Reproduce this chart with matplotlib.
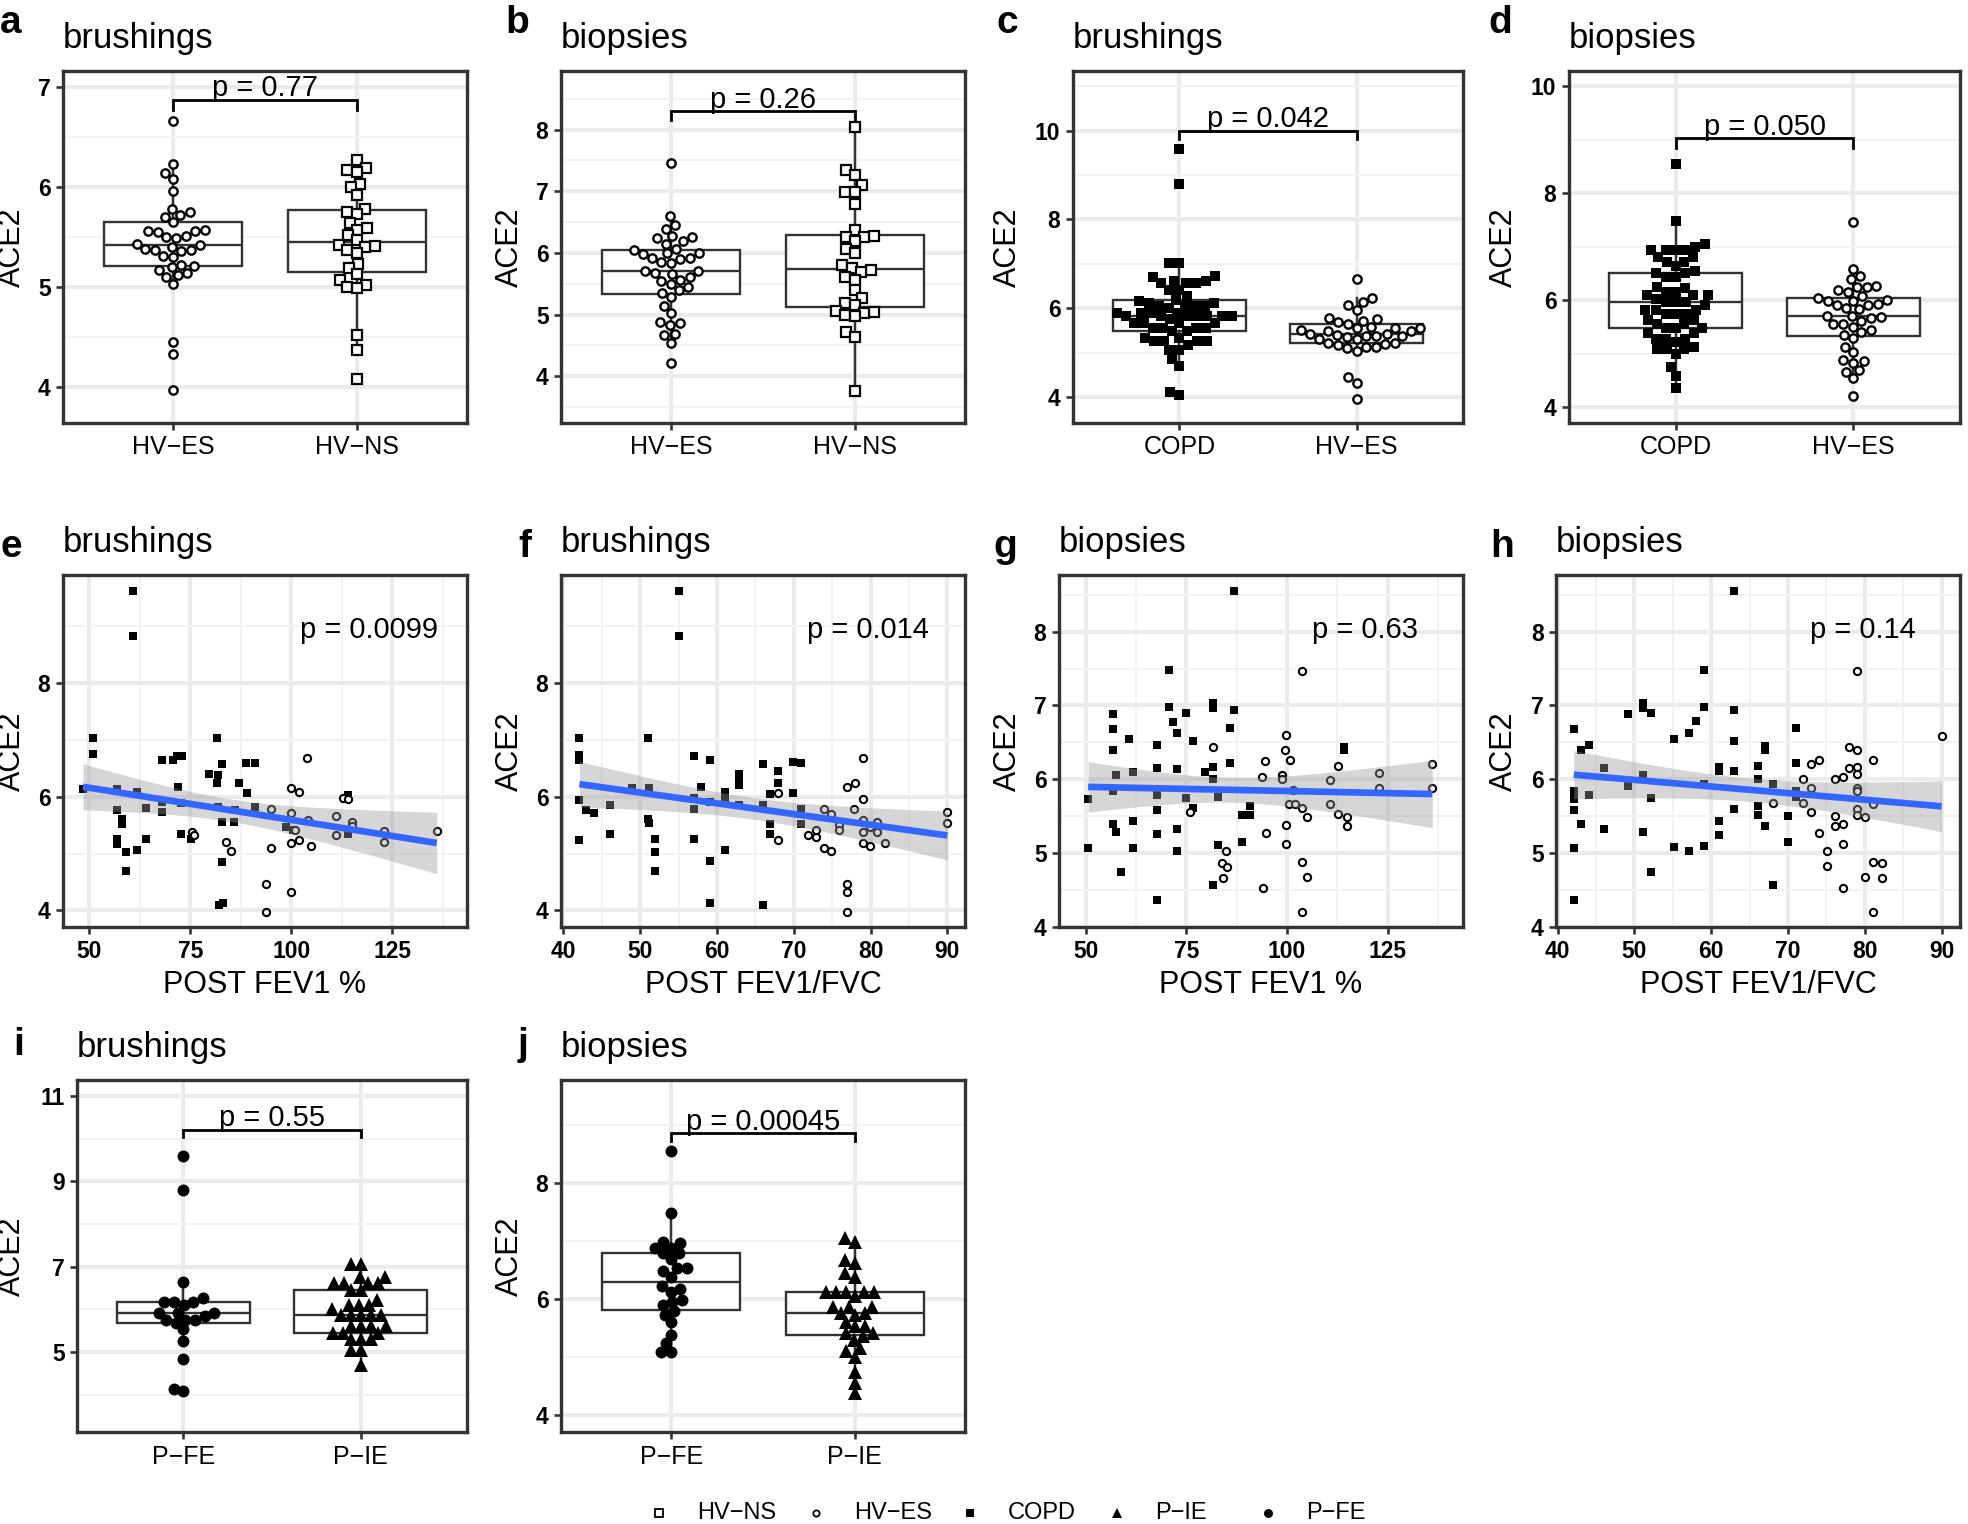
import numpy as np
import matplotlib
matplotlib.use("Agg")
import matplotlib.pyplot as plt

plt.rcParams['font.family'] = ['Liberation Sans', 'DejaVu Sans']

W, H = 1968, 1524
MINUS = '\u2212'

# ---- box panel data (ACE2) ----
brush_hves = [6.66, 6.23, 6.14, 6.08, 5.96, 5.78, 5.75, 5.72, 5.70, 5.65, 5.57, 5.56, 5.56,
              5.55, 5.51, 5.50, 5.49, 5.43, 5.42, 5.40, 5.38, 5.37, 5.37, 5.36, 5.31, 5.30,
              5.22, 5.21, 5.20, 5.17, 5.14, 5.12, 5.10, 5.03, 4.45, 4.33, 3.97]
brush_hvns = [6.27, 6.19, 6.17, 6.15, 6.03, 6.00, 5.92, 5.78, 5.75, 5.73, 5.64, 5.59, 5.57,
              5.52, 5.47, 5.42, 5.41, 5.40, 5.37, 5.34, 5.23, 5.19, 5.13, 5.07, 5.02, 5.00,
              4.99, 4.52, 4.37, 4.08]
biop_hves = [7.46, 6.59, 6.45, 6.39, 6.27, 6.25, 6.24, 6.19, 6.15, 6.07, 6.04, 6.00, 5.99,
             5.98, 5.92, 5.91, 5.90, 5.85, 5.84, 5.71, 5.70, 5.68, 5.66, 5.61, 5.56, 5.55,
             5.50, 5.45, 5.40, 5.35, 5.29, 5.13, 5.02, 4.88, 4.86, 4.83, 4.69, 4.66, 4.54, 4.21]
biop_hvns = [8.04, 7.35, 7.27, 7.10, 6.99, 6.98, 6.79, 6.37, 6.27, 6.26, 6.25, 6.19, 6.07,
             5.99, 5.80, 5.75, 5.72, 5.69, 5.61, 5.56, 5.39, 5.26, 5.18, 5.15, 5.05, 5.04,
             5.03, 4.99, 4.97, 4.72, 4.64, 3.76]
brush_copd = [9.58, 8.79, 7.03, 7.03, 6.72, 6.70, 6.62, 6.62, 6.57, 6.57, 6.57, 6.42, 6.42,
              6.28, 6.19, 6.16, 6.12, 6.12, 6.06, 6.06, 6.06, 6.06, 6.01, 5.90, 5.90, 5.90,
              5.90, 5.82, 5.82, 5.82, 5.82, 5.82, 5.82, 5.82, 5.75, 5.67, 5.67, 5.67, 5.67,
              5.56, 5.56, 5.56, 5.56, 5.48, 5.48, 5.33, 5.33, 5.26, 5.26, 5.26, 5.26, 5.18,
              5.07, 5.07, 4.85, 4.70, 4.11, 4.06]
biop_copd = [8.54, 7.49, 7.05, 6.99, 6.94, 6.94, 6.94, 6.94, 6.80, 6.80, 6.72, 6.72, 6.63,
             6.55, 6.51, 6.51, 6.44, 6.44, 6.25, 6.22, 6.16, 6.16, 6.09, 6.09, 6.09, 6.03,
             5.97, 5.97, 5.97, 5.91, 5.81, 5.81, 5.81, 5.75, 5.75, 5.75, 5.63, 5.63, 5.56,
             5.56, 5.47, 5.47, 5.47, 5.38, 5.38, 5.28, 5.28, 5.28, 5.22, 5.13, 5.09, 5.09,
             5.09, 5.00, 4.75, 4.58, 4.36]
brush_pfe = [9.60, 8.80, 6.64, 6.27, 6.18, 6.18, 6.18, 6.11, 5.92, 5.92, 5.92, 5.84, 5.76,
             5.76, 5.76, 5.68, 5.53, 5.26, 4.84, 4.14, 4.09]
brush_pie = [7.07, 7.07, 6.77, 6.77, 6.62, 6.62, 6.62, 6.62, 6.45, 6.45, 6.23, 6.11, 6.11,
             6.11, 6.00, 5.88, 5.88, 5.88, 5.88, 5.88, 5.61, 5.61, 5.61, 5.61, 5.45, 5.45,
             5.45, 5.30, 5.30, 5.30, 5.06, 5.06, 4.71]
biop_pfe = [8.56, 7.48, 6.99, 6.97, 6.89, 6.89, 6.79, 6.79, 6.69, 6.53, 6.53, 6.48, 6.39,
            6.22, 6.17, 6.13, 5.99, 5.96, 5.90, 5.79, 5.73, 5.60, 5.39, 5.24, 5.09, 5.09]
biop_pie = [7.05, 6.99, 6.68, 6.62, 6.45, 6.39, 6.13, 6.13, 6.13, 6.13, 6.13, 6.05, 5.87,
            5.87, 5.87, 5.76, 5.76, 5.73, 5.61, 5.53, 5.53, 5.41, 5.41, 5.36, 5.30, 5.16,
            5.10, 5.01, 4.75, 4.56, 4.38]

# ---- scatter data ----
e_copd_x = [60.9, 60.9, 50.9, 50.9, 48.4, 56.9, 56.9, 58.0, 58.0, 56.9, 56.9, 59.0, 59.0, 61.8,
            61.7, 63.9, 63.9, 67.9, 67.9, 67.9, 70.8, 71.8, 73.0, 71.9, 72.6, 72.6, 75.1, 79.7,
            81.7, 81.9, 82.8, 81.7, 81.9, 82.8, 82.8, 82.2, 83.1, 85.9, 87.0, 88.8, 91.1, 89.0,
            91.1, 86.1, 98.7, 100.4, 114.0, 114.0]
e_copd_y = [9.61, 8.82, 7.03, 6.74, 6.13, 6.14, 5.76, 5.61, 5.52, 5.26, 5.17, 5.03, 4.70, 6.08,
            5.07, 5.80, 5.26, 6.65, 5.91, 5.73, 6.65, 6.71, 6.71, 6.17, 5.88, 5.35, 5.26, 6.40,
            7.03, 6.38, 6.58, 6.23, 5.82, 5.55, 4.85, 4.09, 4.13, 5.55, 6.23, 6.59, 6.59, 6.06,
            5.82, 5.76, 5.47, 5.41, 6.02, 5.35]
e_hves_x = [103.9, 100.0, 102.0, 95.0, 100.0, 104.1, 111.0, 111.0, 112.8, 114.9, 114.9, 123.0,
            123.0, 136.0, 75.5, 75.9, 83.8, 85.0, 95.0, 100.0, 102.0, 104.9, 93.7, 100.0, 93.7,
            100.8, 114.0]
e_hves_y = [6.67, 6.15, 6.08, 5.78, 5.72, 5.58, 5.66, 5.32, 5.98, 5.55, 5.48, 5.39, 5.21, 5.40,
            5.38, 5.32, 5.20, 5.04, 5.10, 5.18, 5.23, 5.14, 4.47, 4.33, 3.97, 5.41, 5.96]

f_copd_x = [55.1, 55.1, 42.1, 42.1, 42.1, 42.1, 42.1, 43.0, 44.0, 46.1, 46.1, 49.0, 51.0, 51.1,
            51.0, 51.1, 52.0, 52.0, 52.0, 57.0, 57.0, 57.0, 57.0, 57.9, 59.1, 59.1, 59.1, 59.1,
            61.0, 61.0, 61.0, 62.9, 62.9, 62.9, 62.9, 66.0, 66.0, 66.0, 66.9, 66.9, 66.9, 68.0,
            68.0, 69.9, 71.0, 69.9, 70.9, 70.9]
f_copd_y = [9.61, 8.82, 7.03, 6.73, 6.65, 5.94, 5.23, 5.76, 5.71, 5.86, 5.35, 6.15, 7.03, 6.15,
            5.61, 5.54, 5.26, 5.03, 4.70, 6.71, 5.97, 5.79, 5.26, 6.17, 6.65, 5.91, 4.86, 4.13,
            6.08, 5.96, 5.07, 6.40, 6.30, 6.21, 5.86, 6.58, 5.85, 4.09, 6.05, 5.52, 5.35, 6.45,
            6.23, 6.61, 6.59, 6.06, 5.79, 5.52]
f_hves_x = [79.0, 77.0, 78.0, 79.0, 73.9, 74.9, 77.8, 79.0, 79.9, 80.9, 80.9, 75.9, 75.9, 79.0,
            71.8, 72.9, 72.9, 68.0, 68.0, 73.9, 74.9, 79.0, 79.9, 81.9, 90.0, 90.0, 77.0, 77.0,
            77.0]
f_hves_y = [6.67, 6.16, 6.24, 5.96, 5.78, 5.70, 5.79, 5.58, 5.47, 5.55, 5.38, 5.50, 5.41, 5.38,
            5.32, 5.29, 5.42, 5.23, 6.06, 5.10, 5.04, 5.18, 5.13, 5.18, 5.73, 5.54, 4.47, 4.33,
            3.97]

g_copd_x = [86.9, 70.7, 70.7, 81.7, 81.7, 86.9, 74.9, 56.8, 71.7, 56.8, 72.8, 85.9, 60.8, 76.7,
            67.8, 56.8, 114.1, 114.1, 61.8, 67.8, 72.8, 85.9, 79.6, 81.7, 57.5, 56.8, 50.6, 67.8,
            74.9, 81.7, 82.8, 76.6, 67.8, 56.8, 57.6, 61.8, 67.8, 72.8, 88.8, 90.8, 90.8, 50.6,
            61.8, 72.8, 82.8, 88.8, 58.7, 81.7, 67.8]
g_copd_y = [8.55, 7.48, 6.98, 7.04, 6.96, 6.94, 6.90, 6.89, 6.78, 6.68, 6.62, 6.69, 6.54, 6.52,
            6.47, 6.40, 6.44, 6.40, 6.10, 6.15, 6.14, 6.22, 6.10, 6.17, 6.06, 5.84, 5.73, 5.79,
            5.75, 6.00, 5.76, 5.61, 5.58, 5.39, 5.29, 5.43, 5.25, 5.33, 5.51, 5.63, 5.51, 5.06,
            5.07, 5.02, 5.11, 5.15, 4.74, 4.57, 4.36]
g_hves_x = [103.7, 99.8, 99.5, 100.8, 94.6, 93.7, 98.7, 98.7, 112.8, 110.7, 122.8, 122.8, 136.1,
            136.1, 101.6, 100.4, 102.0, 103.7, 104.9, 110.7, 112.8, 114.9, 114.9, 81.7, 75.9,
            94.8, 99.8, 99.8, 84.9, 83.8, 85.0, 84.0, 103.7, 104.9, 94.0, 103.7]
g_hves_y = [7.47, 6.60, 6.40, 6.26, 6.25, 6.03, 6.06, 6.00, 6.18, 5.99, 6.08, 5.88, 6.21, 5.88,
            5.86, 5.67, 5.67, 5.61, 5.49, 5.67, 5.53, 5.49, 5.36, 6.44, 5.56, 5.27, 5.38, 5.12,
            5.03, 4.86, 4.81, 4.66, 4.87, 4.68, 4.52, 4.20]

h_copd_x = [63.0, 59.0, 59.0, 51.1, 51.1, 52.1, 49.1, 63.0, 58.0, 57.1, 42.1, 63.0, 55.1, 71.1,
            67.0, 67.0, 44.1, 43.1, 71.1, 66.1, 61.0, 61.0, 63.0, 46.0, 51.1, 66.1, 68.0, 59.0,
            49.1, 42.1, 42.1, 44.1, 52.1, 71.1, 71.1, 63.0, 66.1, 66.1, 42.1, 70.0, 43.1, 67.0,
            46.0, 61.0, 51.1, 61.0, 70.0, 55.1, 59.0, 42.1, 57.1, 52.1, 68.0, 42.1]
h_copd_y = [8.55, 7.48, 6.98, 7.04, 6.96, 6.90, 6.89, 6.94, 6.79, 6.62, 6.68, 6.52, 6.54, 6.69,
            6.45, 6.40, 6.47, 6.40, 6.22, 6.18, 6.16, 6.11, 6.11, 6.15, 6.06, 6.00, 5.94, 5.94,
            5.91, 5.84, 5.73, 5.79, 5.74, 5.84, 5.76, 5.60, 5.63, 5.51, 5.58, 5.50, 5.39, 5.36,
            5.33, 5.43, 5.29, 5.24, 5.15, 5.08, 5.09, 5.06, 5.02, 4.74, 4.57, 4.36]
h_hves_x = [79.0, 90.0, 78.0, 79.0, 81.1, 73.0, 74.1, 78.0, 79.0, 79.0, 76.1, 77.2, 72.0, 73.0,
            79.0, 79.0, 68.0, 72.0, 81.1, 79.0, 79.0, 80.0, 73.0, 76.1, 76.1, 77.2, 74.1, 77.2,
            75.1, 75.1, 81.1, 82.2, 80.0, 82.2, 77.2, 81.1]
h_hves_y = [7.47, 6.59, 6.44, 6.40, 6.26, 6.21, 6.26, 6.15, 6.17, 6.07, 6.00, 6.03, 6.00, 5.88,
            5.88, 5.84, 5.68, 5.68, 5.67, 5.60, 5.51, 5.49, 5.56, 5.50, 5.36, 5.39, 5.27, 5.12,
            5.03, 4.82, 4.88, 4.86, 4.68, 4.66, 4.53, 4.20]

legend_labels = ['HV-NS', 'HV-ES', 'COPD', 'P-IE', 'P-FE']

STYLE = {
    'HV-NS': dict(marker='s', mfc='white', mec='black', ms=7.0, mew=1.6),
    'HV-ES': dict(marker='o', mfc='white', mec='black', ms=6.0, mew=1.7),
    'COPD': dict(marker='s', mfc='black', mec='black', ms=7.2, mew=0),
    'P-IE': dict(marker='^', mfc='black', mec='black', ms=9.5, mew=0),
    'P-FE': dict(marker='o', mfc='black', mec='black', ms=8.6, mew=0),
}

DARK = '#333333'
fig = plt.figure(figsize=(W / 100, H / 100), dpi=100)


def rect(l, t, r, b):
    return [l / W, 1 - b / H, (r - l) / W, (b - t) / H]


def ftext(x, y, s, **kw):
    fig.text(x / W, 1 - y / H, s, **kw)


def fmt(v):
    return str(int(v)) if float(v).is_integer() else str(v)


def style_axes(ax, xlim, ylim, yticks, yminor, xticks, xlabels, xbold, xminor=None):
    ax.set_xlim(*xlim)
    ax.set_ylim(*ylim)
    ax.set_yticks(yticks, labels=[fmt(v) for v in yticks], fontsize=16.5,
                  fontweight='bold')
    ax.set_yticks(yminor, minor=True)
    ax.set_xticks(xticks, labels=xlabels, fontsize=18 if not xbold else 16.5,
                  fontweight='bold' if xbold else 'normal')
    if xminor is not None:
        ax.set_xticks(xminor, minor=True)
    ax.set_axisbelow(True)
    ax.grid(which='major', color='#EBEBEB', lw=2.9)
    ax.grid(which='minor', color='#F2F2F2', lw=1.4)
    ax.tick_params(which='minor', length=0)
    ax.tick_params(which='major', length=5, width=1.9, color=DARK, pad=4)
    for sp in ax.spines.values():
        sp.set_color(DARK)
        sp.set_linewidth(2.4)
        sp.set_zorder(5)


def swarm(values, ppu_x, ppu_y, d):
    vals = np.asarray(values, dtype=float)
    offs = np.zeros(len(vals))
    placed = []
    for i in np.argsort(vals):
        y = vals[i] * ppu_y
        cands = [0.0]
        for px, py in placed:
            dy = abs(py - y)
            if dy < d:
                dx = np.sqrt(d * d - dy * dy)
                cands += [px + dx, px - dx]
        cands.sort(key=lambda c: (round(abs(c), 6), c))
        for c in cands:
            if all((c - px) ** 2 + (y - py) ** 2 >= d * d - 1e-6 for px, py in placed):
                break
        placed.append((c, y))
        offs[i] = c / ppu_x
    return offs


def box_panel(px, groups, names, ticklabels, ylim, yticks, yminor, ptext, br, tip,
              letter, letter_xy, title, ylab_x):
    l, t, r, b = px
    ax = fig.add_axes(rect(*px))
    ax.boxplot(groups, positions=[1, 2], widths=0.75, showfliers=False, showcaps=False,
               patch_artist=True, manage_ticks=False,
               boxprops=dict(facecolor='white', edgecolor=DARK, lw=1.7),
               medianprops=dict(color=DARK, lw=1.7),
               whiskerprops=dict(color=DARK, lw=1.7), zorder=2)
    style_axes(ax, (0.4, 2.6), ylim, yticks, yminor, [1, 2],
               [s.replace('-', MINUS) for s in ticklabels], False)
    ppu_x = (r - l) / 2.2
    ppu_y = (b - t) / (ylim[1] - ylim[0])
    for k, (vals, name) in enumerate(zip(groups, names)):
        offs = swarm(vals, ppu_x, ppu_y, 10.0)
        ax.plot(k + 1 + offs, vals, ls='none', zorder=3, **STYLE[name])
    ax.plot([1, 1, 2, 2], [tip, br, br, tip], color='black', lw=2.0, zorder=4,
            solid_joinstyle='miter')
    ax.annotate(ptext, xy=(1.5, br), xytext=(0, 2.5), textcoords='offset points',
                ha='center', va='baseline', fontsize=21)
    ftext(ylab_x, (t + b) / 2, 'ACE2', rotation=90, ha='center', va='center', fontsize=22)
    ftext(letter_xy[0], letter_xy[1], letter, fontsize=28, fontweight='bold', va='baseline')
    ftext(l, letter_xy[2], title, fontsize=25, va='baseline')
    return ax


def scatter_panel(px, cx, cy, hx, hy, xlim, xticks, xminor, ylim, yticks, yminor,
                  ptext, pfrac, xlabel, letter, letter_xy, title, ylab_x):
    l, t, r, b = px
    ax = fig.add_axes(rect(*px))
    sq = dict(STYLE['COPD'])
    sq['ms'] = 6.0
    ci = dict(STYLE['HV-ES'])
    ci['ms'] = 5.2
    ci['mew'] = 1.5
    ax.plot(cx, cy, ls='none', zorder=2, **sq)
    ax.plot(hx, hy, ls='none', zorder=2, **ci)
    x = np.array(cx + hx)
    y = np.array(cy + hy)
    n = len(x)
    slope, icpt = np.polyfit(x, y, 1)
    resid = y - (slope * x + icpt)
    s = np.sqrt(np.sum(resid ** 2) / (n - 2))
    xs = np.linspace(x.min(), x.max(), 80)
    yh = slope * xs + icpt
    se = s * np.sqrt(1 / n + (xs - x.mean()) ** 2 / np.sum((x - x.mean()) ** 2))
    tval = 1.99
    ax.fill_between(xs, yh - tval * se, yh + tval * se, color='#999999', alpha=0.4,
                    lw=0, zorder=3)
    ax.plot(xs, yh, color='#3366FF', lw=4.8, zorder=4, solid_capstyle='butt')
    style_axes(ax, xlim, ylim, yticks, yminor, xticks, [fmt(v) for v in xticks], True,
               xminor=xminor)
    ax.text(pfrac, 0.822, ptext, transform=ax.transAxes, ha='left', va='baseline',
            fontsize=21)
    ftext((l + r) / 2, 993, xlabel, ha='center', va='baseline', fontsize=22)
    ftext(ylab_x, (t + b) / 2, 'ACE2', rotation=90, ha='center', va='center', fontsize=22)
    ftext(letter_xy[0], letter_xy[1], letter, fontsize=28, fontweight='bold', va='baseline')
    ftext(l, letter_xy[2], title, fontsize=25, va='baseline')
    return ax


# row 1
box_panel((63, 71, 467, 423), [brush_hves, brush_hvns], ['HV-ES', 'HV-NS'], ['HV-ES', 'HV-NS'],
          (3.64, 7.157), [4, 5, 6, 7], [4.5, 5.5, 6.5], 'p = 0.77', 6.87, 6.77,
          'a', (0, 33, 48), 'brushings', 12)
box_panel((561, 71, 965, 423), [biop_hves, biop_hvns], ['HV-ES', 'HV-NS'], ['HV-ES', 'HV-NS'],
          (3.24, 8.95), [4, 5, 6, 7, 8], [3.5, 4.5, 5.5, 6.5, 7.5, 8.5], 'p = 0.26', 8.30, 8.15,
          'b', (505, 33, 48), 'biopsies', 510)
box_panel((1073, 71, 1463, 423), [brush_copd, brush_hves], ['COPD', 'HV-ES'], ['COPD', 'HV-ES'],
          (3.42, 11.34), [4, 6, 8, 10], [5, 7, 9, 11], 'p = 0.042', 10.0, 9.8,
          'c', (997, 33, 48), 'brushings', 1008)
box_panel((1569, 71, 1960, 423), [biop_copd, biop_hves], ['COPD', 'HV-ES'], ['COPD', 'HV-ES'],
          (3.70, 10.29), [4, 6, 8, 10], [5, 7, 9], 'p = 0.050', 9.03, 8.84,
          'd', (1488, 33, 48), 'biopsies', 1504)

# row 2
scatter_panel((63, 575, 467, 927), e_copd_x, e_copd_y, e_hves_x, e_hves_y,
              (43.45, 143.5), [50, 75, 100, 125], [62.5, 87.5, 112.5, 137.5],
              (3.71, 9.89), [4, 6, 8], [5, 7, 9], 'p = 0.0099', 0.587, 'POST FEV1 %',
              'e', (0, 557, 552), 'brushings', 12)
scatter_panel((561, 575, 965, 927), f_copd_x, f_copd_y, f_hves_x, f_hves_y,
              (39.7, 92.3), [40, 50, 60, 70, 80, 90], [45, 55, 65, 75, 85],
              (3.71, 9.89), [4, 6, 8], [5, 7, 9], 'p = 0.014', 0.609, 'POST FEV1/FVC',
              'f', (518, 557, 552), 'brushings', 510)
scatter_panel((1059, 575, 1463, 927), g_copd_x, g_copd_y, g_hves_x, g_hves_y,
              (43.36, 143.75), [50, 75, 100, 125], [62.5, 87.5, 112.5, 137.5],
              (3.995, 8.77), [4, 5, 6, 7, 8], [4.5, 5.5, 6.5, 7.5, 8.5], 'p = 0.63', 0.626,
              'POST FEV1 %', 'g', (993, 557, 552), 'biopsies', 1008)
scatter_panel((1556, 575, 1960, 927), h_copd_x, h_copd_y, h_hves_x, h_hves_y,
              (39.78, 92.4), [40, 50, 60, 70, 80, 90], [45, 55, 65, 75, 85],
              (3.995, 8.77), [4, 5, 6, 7, 8], [4.5, 5.5, 6.5, 7.5, 8.5], 'p = 0.14', 0.629,
              'POST FEV1/FVC', 'h', (1490, 557, 552), 'biopsies', 1504)

# row 3
box_panel((77, 1080, 467, 1432), [brush_pfe, brush_pie], ['P-FE', 'P-IE'], ['P-FE', 'P-IE'],
          (3.13, 11.37), [5, 7, 9, 11], [4, 6, 8, 10], 'p = 0.55', 10.21, 10.03,
          'i', (13, 1055, 1057), 'brushings', 12)
box_panel((561, 1080, 965, 1432), [biop_pfe, biop_pie], ['P-FE', 'P-IE'], ['P-FE', 'P-IE'],
          (3.71, 9.78), [4, 6, 8], [5, 7, 9], 'p = 0.00045', 8.86, 8.72,
          'j', (518, 1055, 1057), 'biopsies', 510)

# legend along the bottom
lax = fig.add_axes([0, 0, 1, 1], zorder=-1)
lax.set_xlim(0, W)
lax.set_ylim(H, 0)
lax.axis('off')
leg_marker_x = [659, 816, 970, 1117, 1268]
for name, mx in zip(legend_labels, leg_marker_x):
    st = dict(STYLE[name])
    st['ms'] = st['ms'] * 0.75
    if st['mew']:
        st['mew'] = 1.3
    lax.plot([mx], [1513], ls='none', **st)
    lax.text(mx + 38, 1513, name.replace('-', MINUS), ha='left', va='center', fontsize=17)

fig.savefig('out.png', dpi=100)
